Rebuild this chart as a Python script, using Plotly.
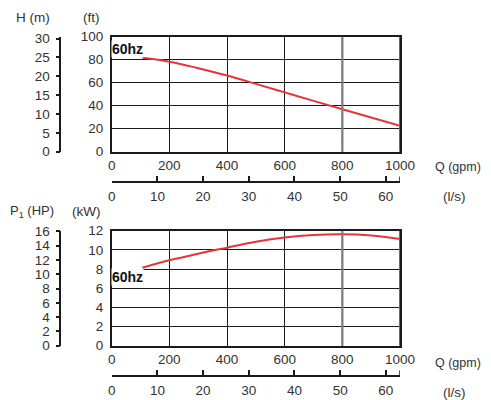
import plotly.graph_objects as go

# ---- data ----
gpm = [106, 200, 300, 400, 500, 600, 700, 800, 900, 1000]
head_ft = [81.7, 78.3, 72.6, 66.3, 59.0, 51.6, 44.2, 36.9, 29.7, 22.6]
power_kw = [8.14, 8.91, 9.60, 10.23, 10.85, 11.30, 11.55, 11.63, 11.50, 11.14]
curve_label = "60hz"

gpm_ticks = [0, 200, 400, 600, 800, 1000]
ls_ticks = [0, 10, 20, 30, 40, 50, 60]
ft_ticks = [0, 20, 40, 60, 80, 100]
m_ticks = [0, 5, 10, 15, 20, 25, 30]
kw_ticks = [0, 2, 4, 6, 8, 10, 12]
hp_ticks = [0, 2, 4, 6, 8, 10, 12, 14, 16]

GPM_TO_LS = 0.0630902
FT_TO_M = 0.3048
KW_TO_HP = 1 / 0.7457

# the page body has an 8px margin, so the figure is placed at (8, 8)
OFF = 8
W, H = 491 - OFF, 400 - OFF
def px(x): return (x - OFF) / W
def py(y): return 1 - (y - OFF) / H

XL, XR = 111.7, 400.0
TOP1, BOT1 = 36.7, 151.7
TOP2, BOT2 = 230.7, 345.7

FONT = "Liberation Sans"
FS = 13.5
TXT = "#333333"
GRID = "#1a1a1a"
RED = "#e8333c"

fig = go.Figure()

# main curves
fig.add_trace(go.Scatter(x=gpm, y=head_ft, mode="lines", line=dict(color=RED, width=2, shape="spline"),
                         xaxis="x", yaxis="y", hoverinfo="skip", showlegend=False))
fig.add_trace(go.Scatter(x=gpm, y=power_kw, mode="lines", line=dict(color=RED, width=2, shape="spline"),
                         xaxis="x2", yaxis="y2", hoverinfo="skip", showlegend=False))

# invisible traces to tie secondary axes
ls = [g * GPM_TO_LS for g in gpm]
fig.add_trace(go.Scatter(x=ls, y=head_ft, mode="lines", line=dict(width=0), opacity=0,
                         xaxis="x3", yaxis="y", hoverinfo="skip", showlegend=False))
fig.add_trace(go.Scatter(x=ls, y=power_kw, mode="lines", line=dict(width=0), opacity=0,
                         xaxis="x4", yaxis="y2", hoverinfo="skip", showlegend=False))
fig.add_trace(go.Scatter(x=gpm, y=[h * FT_TO_M for h in head_ft], mode="lines", line=dict(width=0), opacity=0,
                         xaxis="x", yaxis="y3", hoverinfo="skip", showlegend=False))
fig.add_trace(go.Scatter(x=gpm, y=[p * KW_TO_HP for p in power_kw], mode="lines", line=dict(width=0), opacity=0,
                         xaxis="x2", yaxis="y4", hoverinfo="skip", showlegend=False))

tickfont = dict(family=FONT, size=FS, color=TXT)
xdom = [px(XL), px(XR)]
gpm_max = gpm_ticks[-1]
ls_max = gpm_max * GPM_TO_LS
ft_max = ft_ticks[-1]
kw_max = kw_ticks[-1]

def main_x(anchor):
    return dict(domain=xdom, anchor=anchor, range=[0, gpm_max], tickvals=gpm_ticks,
                showgrid=True, gridcolor=GRID, gridwidth=1.2, zeroline=False,
                showline=True, linecolor=GRID, linewidth=1.5, mirror=True,
                ticks="", tickfont=tickfont, ticklabelstandoff=0, fixedrange=True,
                automargin=False)

LS_POS = (py(181.5), py(375.5))

def ls_x(pos, over):
    return dict(domain=xdom, anchor="free", position=pos, overlaying=over, side="bottom",
                range=[0, ls_max], tickvals=ls_ticks,
                showgrid=False, zeroline=False, showline=True, linecolor=GRID, linewidth=1.5,
                ticks="inside", ticklen=5, tickwidth=1.5, tickcolor=GRID,
                tickfont=tickfont, ticklabelstandoff=3, fixedrange=True, automargin=False)

def main_y(dom, anchor, rng, tv):
    return dict(domain=dom, anchor=anchor, range=rng, tickvals=tv,
                showgrid=True, gridcolor=GRID, gridwidth=1.2, zeroline=False,
                showline=True, linecolor=GRID, linewidth=1.5, mirror=True,
                ticks="", tickfont=tickfont, ticklabelstandoff=4, fixedrange=True,
                automargin=False)

def alt_y(over, rng, tv):
    return dict(overlaying=over, anchor="free", position=px(60.3), side="left",
                range=rng, tickvals=tv, showgrid=False, zeroline=False,
                showline=True, linecolor=GRID, linewidth=1.5,
                ticks="outside", ticklen=4, tickwidth=1.5, tickcolor=GRID,
                tickfont=tickfont, ticklabelstandoff=3, fixedrange=True, automargin=False)

fig.update_layout(
    width=W, height=H, margin=dict(l=0, r=0, t=0, b=0, autoexpand=False),
    paper_bgcolor="white", plot_bgcolor="white", showlegend=False,
    xaxis=main_x("y"),
    xaxis2=main_x("y2"),
    xaxis3=ls_x(LS_POS[0], "x"),
    xaxis4=ls_x(LS_POS[1], "x2"),
    yaxis=main_y([py(BOT1), py(TOP1)], "x", [0, ft_max], ft_ticks),
    yaxis2=main_y([py(BOT2), py(TOP2)], "x2", [0, kw_max], kw_ticks),
    yaxis3=alt_y("y", [0, ft_max * FT_TO_M], m_ticks),
    yaxis4=alt_y("y2", [0, kw_max * KW_TO_HP], hp_ticks),
)

# end ticks of the l/s axes
for xa, pos in (("x3", LS_POS[0]), ("x4", LS_POS[1])):
    fig.add_shape(type="line", xref=xa, yref="paper", x0=ls_max, x1=ls_max,
                  y0=pos, y1=pos + 5 / H, line=dict(color=GRID, width=1.5))

# highlighted gridline at 800 and right edges (grey)
for xa, ya in (("x", "y domain"), ("x2", "y2 domain")):
    fig.add_shape(type="line", xref=xa, yref=ya, x0=gpm_ticks[4], x1=gpm_ticks[4], y0=0, y1=1,
                  line=dict(color="#7a7a7a", width=2.2))
    fig.add_shape(type="line", xref=xa, yref=ya, x0=gpm_max, x1=gpm_max, y0=0, y1=1,
                  line=dict(color="#6a6a6a", width=2))

def note(text, x, y, xanchor="center", size=FS):
    fig.add_annotation(text=text, x=px(x), y=py(y), xref="paper", yref="paper",
                       xanchor=xanchor, yanchor="middle", showarrow=False, borderpad=0,
                       font=dict(family=FONT, size=size, color=TXT))

note("H (m)", 33, 17)
note("(ft)", 91, 17)
note("Q (gpm)", 482, 167, "right", 12.5)
note("(l/s)", 442, 196, "left")
note("P<sub>1</sub> (HP)", 9, 211, "left", 13)
note("(kW)", 86, 211)
note("Q (gpm)", 482, 363, "right", 12.5)
note("(l/s)", 442, 392, "left")

bfont = dict(family=FONT, size=14, color="#111111")
fig.add_annotation(text="<b>" + curve_label + "</b>", x=0, y=head_ft[0], xref="x", yref="y",
                   xanchor="left", yanchor="bottom", showarrow=False, font=bfont,
                   bgcolor="white", borderpad=0, xshift=-1)
fig.add_annotation(text="<b>" + curve_label + "</b>", x=0, y=power_kw[0], xref="x2", yref="y2",
                   xanchor="left", yanchor="top", showarrow=False, font=bfont,
                   bgcolor="white", borderpad=0, xshift=-1)

fig.write_html("out.html")
